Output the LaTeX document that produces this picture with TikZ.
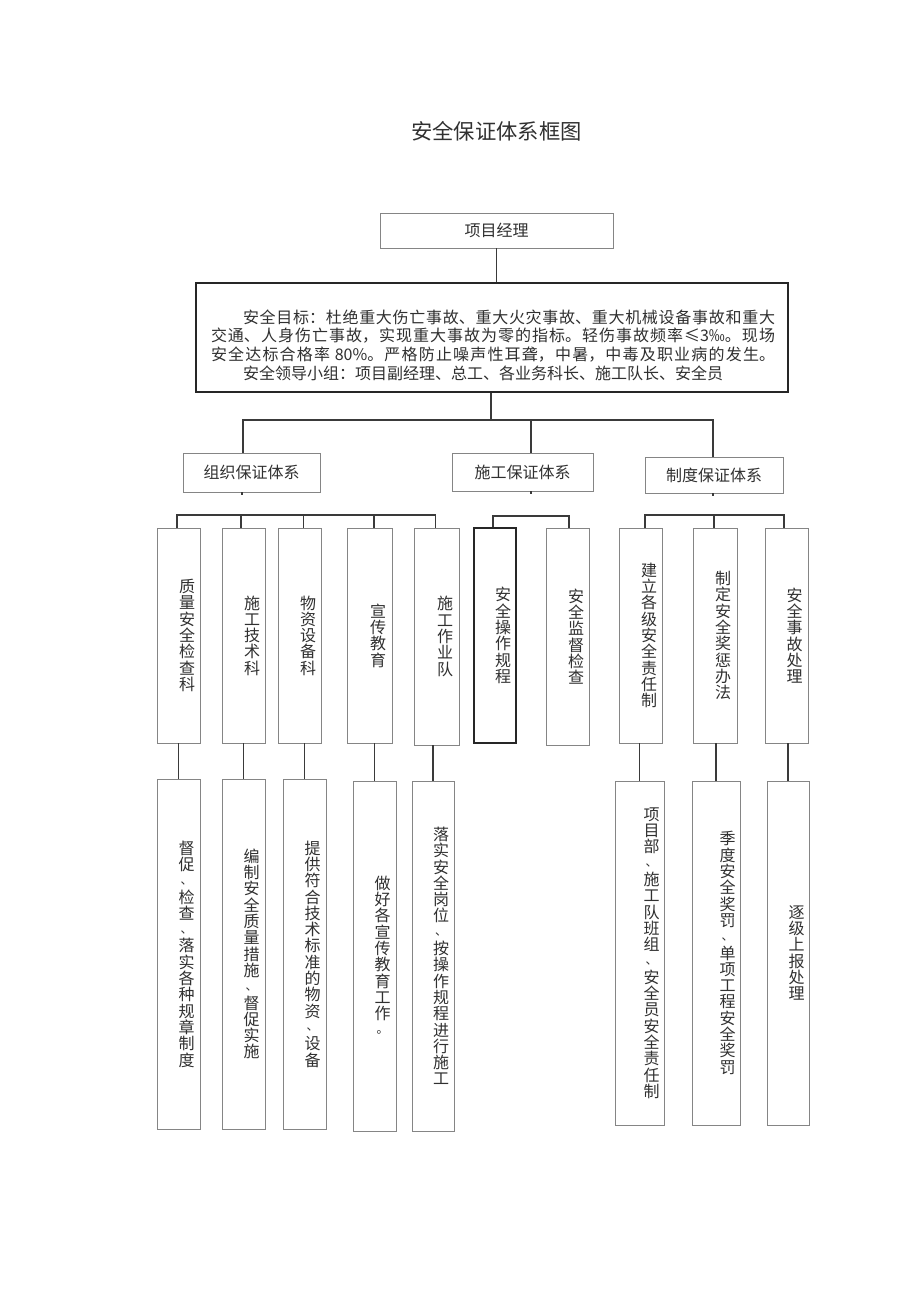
\documentclass[tikz,border=0pt]{standalone}
\usepackage{fontspec}
\setmainfont{Noto Sans CJK SC}
\XeTeXlinebreaklocale "zh"
\XeTeXlinebreakskip=0pt plus 2pt
\definecolor{txt}{HTML}{303030}
\definecolor{boxgray}{HTML}{858585}
\definecolor{lngray}{HTML}{3A3A3A}
\newcommand\vpunct[1]{\raisebox{2.5pt}{\fontsize{12}{12}\selectfont#1}}
\newcommand\vt[2][16pt]{\hskip#1\vbox{\baselineskip=16.3pt\lineskiplimit=-50pt\lineskip=0pt\vtA#2\relax}}
\def\vtA#1{\ifx\relax#1\else\hbox to 16pt{\hss\ifx、#1\vpunct{#1}\else\ifx。#1\vpunct{#1}\else#1\fi\fi\hss}\expandafter\vtA\fi}
\tikzset{
  bx/.style={draw=boxgray, line width=0.9pt, inner sep=0pt, text=txt, font=\fontsize{16}{18}\selectfont},
  thickbx/.style={draw=black!85, line width=1.8pt, inner sep=0pt, text=txt, font=\fontsize{16}{18}\selectfont},
  conn/.style={draw=lngray, line width=1.3pt},
}
\begin{document}
\begin{tikzpicture}[x=1pt,y=-1pt]
\useasboundingbox[fill=white] (0,0) rectangle (920,1301);
% title
\node[text=txt, font=\fontsize{21.3}{24}\selectfont, inner sep=0pt] (title) at (496.5,131) {安全保证体系框图};
% top
\node[bx, minimum width=233pt, minimum height=35pt] (pm) at (496.5,230.5) {项目经理};
\node[thickbx, minimum width=592pt, minimum height=109pt] (goal) at (492,337.5) {};
\node[text width=564pt, align=justify, inner sep=0pt, text=txt, font=\fontsize{16}{18.6}\selectfont] (goaltext) at (493,345)
 {\tolerance=9999\noindent\hspace*{32pt}安全目标：杜绝重大伤亡事故、重大火灾事故、重大机械设备事故和重大\linebreak
 交通、人身伤亡事故，实现重大事故为零的指标。轻伤事故频率≤3‰。现场\linebreak
 安全达标合格率 80\%。严格防止噪声性耳聋，中暑，中毒及职业病的发生。{\parfillskip=0pt\par}
 \noindent\hspace*{32pt}安全领导小组：项目副经理、总工、各业务科长、施工队长、安全员};
\draw[conn] (pm.south) -- (pm.south |- goal.north);
% level 2
\node[bx, minimum width=137pt, minimum height=39pt] (s1) at (251.5,472.5) {组织保证体系};
\node[bx, minimum width=141pt, minimum height=38pt] (s2) at (522.5,472) {施工保证体系};
\node[bx, minimum width=138pt, minimum height=36pt] (s3) at (714,475) {制度保证体系};
\coordinate (hub) at (491,420);
\coordinate (j1) at (243,420);
\coordinate (j2) at (531,420);
\coordinate (j3) at (713,420);
\draw[conn] (hub |- goal.south) -- (hub);
\draw[conn] (j1 |- s1.north) -- (j1) -- (j3) -- (j3 |- s3.north);
\draw[conn] (j2) -- (j2 |- s2.north);
\coordinate (t1) at (242,495);
\coordinate (t2) at (531,494);
\coordinate (t3) at (713,496);
\draw[conn] (t1 |- s1.south) -- (t1);
\draw[conn] (t2 |- s2.south) -- (t2);
\draw[conn] (t3 |- s3.south) -- (t3);
% level 3
\node[bx, minimum width=43pt, minimum height=215pt] (c1) at (179,635.5) {\vt{质量安全检查科}};
\node[bx, minimum width=43pt, minimum height=215pt] (c2) at (244,635.5) {\vt{施工技术科}};
\node[bx, minimum width=42.5pt, minimum height=215pt] (c3) at (300,635.5) {\vt{物资设备科}};
\node[bx, minimum width=45.5pt, minimum height=215pt] (c4) at (370,635.5) {\vt{宣传教育}};
\node[bx, minimum width=44.5pt, minimum height=217pt] (c5) at (437,636.5) {\vt{施工作业队}};
\node[thickbx, minimum width=42pt, minimum height=215pt] (c6) at (495,635.5) {\vt{安全操作规程}};
\node[bx, minimum width=43pt, minimum height=217pt] (c7) at (568,636.5) {\vt{安全监督检查}};
\node[bx, minimum width=43pt, minimum height=215pt] (c8) at (641,635.5) {\vt{建立各级安全责任制}};
\node[bx, minimum width=44pt, minimum height=215pt] (c9) at (715,635.5) {\vt{制定安全奖惩办法}};
\node[bx, minimum width=43pt, minimum height=215pt] (c10) at (786.5,635.5) {\vt{安全事故处理}};
% level 3 connectors
\coordinate (v1) at (177,515);
\coordinate (v2) at (241,515);
\coordinate (v3) at (303.5,515);
\coordinate (v4) at (374,515);
\coordinate (v5) at (435.5,515);
\coordinate (v6) at (493,516);
\coordinate (v7) at (569,516);
\coordinate (v8) at (645,515);
\coordinate (v9) at (714,515);
\coordinate (v10) at (784,515);
\draw[conn] (v1 |- c1.north) -- (v1) -- (v5) -- (v5 |- c5.north);
\draw[conn] (v2) -- (v2 |- c2.north);
\draw[conn] (v3) -- (v3 |- c3.north);
\draw[conn] (v4) -- (v4 |- c4.north);
\draw[conn] (v6 |- c6.north) -- (v6) -- (v7) -- (v7 |- c7.north);
\draw[conn] (v8 |- c8.north) -- (v8) -- (v10) -- (v10 |- c10.north);
\draw[conn] (v9) -- (v9 |- c9.north);
% level 4
\node[bx, minimum width=43pt, minimum height=350pt] (d1) at (178.5,954) {\vt{督促、检查、落实各种规章制度}};
\node[bx, minimum width=43pt, minimum height=350pt] (d2) at (243.5,954) {\vt{编制安全质量措施、督促实施}};
\node[bx, minimum width=43pt, minimum height=350pt] (d3) at (304.5,954) {\vt{提供符合技术标准的物资、设备}};
\node[bx, minimum width=43pt, minimum height=350pt] (d4) at (374.5,956) {\vt{做好各宣传教育工作。}};
\node[bx, minimum width=42pt, minimum height=350pt] (d5) at (433,956) {\vt{落实安全岗位、按操作规程进行施工}};
\node[bx, minimum width=49pt, minimum height=344pt] (d8) at (639.5,953) {\vt[24pt]{项目部、施工队班组、安全员安全责任制}};
\node[bx, minimum width=48pt, minimum height=344pt] (d9) at (716,953) {\vt[23pt]{季度安全奖罚、单项工程安全奖罚}};
\node[bx, minimum width=42pt, minimum height=344pt] (d10) at (788,953) {\vt[17pt]{逐级上报处理}};
\foreach \a/\b in {d1/c1,d2/c2,d3/c3,d4/c4,d5/c5,d8/c8,d9/c9,d10/c10}
  \draw[conn] (\a.north) -- (\a.north |- \b.south);
\end{tikzpicture}
\end{document}
